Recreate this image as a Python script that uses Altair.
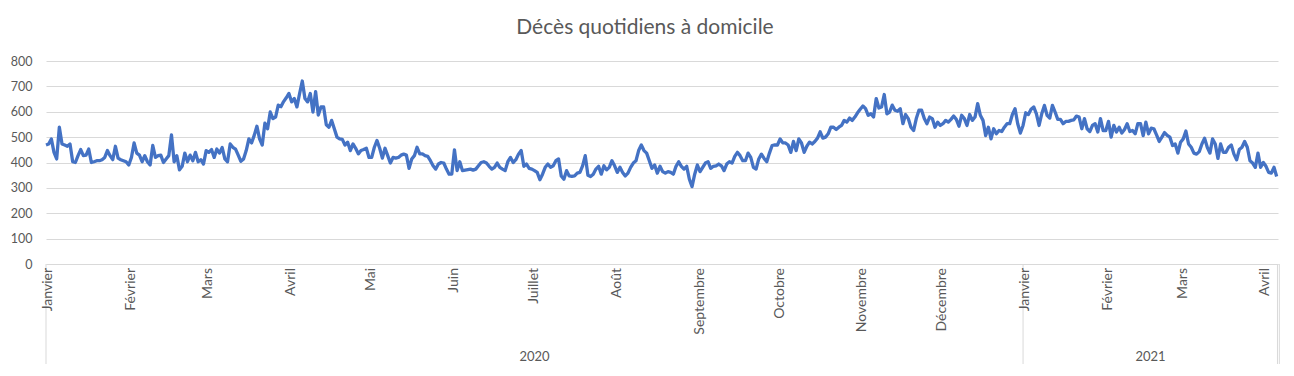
import altair as alt
import pandas as pd

# Daily deaths at home (one value per day)
jan_2020 = [469,473,493,440,414,539,473,469,464,473,403,400,427,451,427,429,453,400,403,407,407,411,420,447,427,411,464,417,411,407,403]
feb_2020 = [390,420,477,437,429,403,427,403,390,467,420,427,429,400,414,427,509,403,427,371,385,437,403,429,407,440,403,411,394]
mar_2020 = [447,440,451,420,453,437,459,414,403,473,460,453,429,405,414,447,493,477,507,543,493,469,555,533,599,573,579,626,620,640,655]
apr_2020 = [672,639,652,619,672,721,652,639,672,599,679,587,619,619,549,539,566,533,500,493,491,469,480,447,473,456,434,447,451,456]
may_2020 = [420,420,460,487,456,417,456,427,398,420,417,420,429,433,429,377,414,427,460,434,434,427,424,407,387,374,394,400,398,374,354]
jun_2020 = [354,450,368,403,368,370,372,374,370,374,387,400,403,398,385,374,381,398,381,374,368,403,420,400,411,433,447,385,394,377]
jul_2020 = [374,368,361,332,354,381,394,381,387,407,414,347,334,368,347,345,347,358,361,387,427,350,345,354,374,385,354,387,371,381,407]
aug_2020 = [387,361,381,361,347,358,381,398,407,447,469,447,437,407,377,390,358,385,364,358,364,361,354,385,403,385,374,385,334,305,354]
sep_2020 = [390,364,381,398,403,377,385,387,394,387,368,394,403,398,424,440,427,407,407,437,420,381,374,414,433,416,403,437,467,469]
oct_2020 = [469,493,477,477,469,440,483,447,493,477,440,464,480,473,483,496,521,496,500,513,539,539,530,539,546,566,559,575,566,579,596]
nov_2020 = [610,623,612,586,592,579,652,615,619,668,592,599,626,606,602,612,553,589,573,539,526,573,606,606,573,553,579,573,539,559]
dec_2020 = [546,553,566,559,570,583,570,543,586,573,546,589,566,579,632,586,566,506,539,493,533,513,526,522,539,553,553,589,612,553,516]
jan_2021 = [546,596,589,610,619,592,546,592,625,586,575,625,599,570,570,553,562,562,566,568,583,579,533,573,533,522,546,553,520,573,526]
feb_2021 = [526,562,500,546,520,539,516,530,553,522,526,513,553,553,506,559,513,535,533,509,483,500,518,507,500,467,473,437]
mar_2021 = [480,493,524,473,460,437,433,443,473,496,460,437,493,473,416,473,440,440,460,469,433,411,451,460,483,460,407,398,381,437,381]
apr_2021 = [400,385,361,358,381,345]

months = [jan_2020, feb_2020, mar_2020, apr_2020, may_2020, jun_2020, jul_2020,
          aug_2020, sep_2020, oct_2020, nov_2020, dec_2020,
          jan_2021, feb_2021, mar_2021, apr_2021]
month_names = ["Janvier", "Février", "Mars", "Avril", "Mai", "Juin", "Juillet", "Août",
               "Septembre", "Octobre", "Novembre", "Décembre",
               "Janvier", "Février", "Mars", "Avril"]
years = ["2020", "2021"]
y_ticks = [0, 100, 200, 300, 400, 500, 600, 700, 800]
title_text = "Décès quotidiens à domicile"

values = [v for m in months for v in m]
df = pd.DataFrame({"day": list(range(len(values))), "deces": values})

starts = []
acc = 0
for m in months:
    starts.append(acc)
    acc += len(m)
n_days = len(values)
x_max = n_days - 0.5

labels_df = pd.DataFrame({"day": [s + 0.8 for s in starts], "label": month_names})
year_df = pd.DataFrame({"day": [183, (366 + x_max) / 2], "label": years})
sep_df = pd.DataFrame({"day": [0, 366, x_max - 0.2, x_max + 0.5]})

xscale = alt.Scale(domain=[0, x_max], nice=False, zero=False)
GRAY = "#595959"
FONT = "Lato"

line = alt.Chart(df).mark_line(color="#4472C4", strokeWidth=3.3, strokeJoin="round").encode(
    x=alt.X("day:Q", scale=xscale,
            axis=alt.Axis(title=None, labels=False, ticks=False, grid=False,
                          domain=True, domainColor="#d9d9d9")),
    y=alt.Y("deces:Q", scale=alt.Scale(domain=[0, 800], nice=False),
            axis=alt.Axis(title=None, values=y_ticks, ticks=False, domain=False,
                          gridColor="#d9d9d9", labelColor=GRAY, labelFont=FONT,
                          labelFontSize=12.5, labelPadding=14)),
)

month_text = alt.Chart(labels_df).mark_text(
    angle=270, align="right", baseline="middle", fontSize=14, font=FONT, color=GRAY
).encode(x=alt.X("day:Q", scale=xscale), y=alt.value(207), text="label:N")

year_text = alt.Chart(year_df).mark_text(
    align="center", baseline="middle", fontSize=13, font=FONT, color=GRAY
).encode(x=alt.X("day:Q", scale=xscale), y=alt.value(296), text="label:N")

seps = alt.Chart(sep_df).mark_rule(color="#d9d9d9", strokeWidth=1).encode(
    x=alt.X("day:Q", scale=xscale), y=alt.value(203), y2=alt.value(310)
)

title = alt.Chart(pd.DataFrame({"t": [title_text]})).mark_text(
    align="center", baseline="middle", fontSize=21, font=FONT, color=GRAY
).encode(x=alt.value(599), y=alt.value(-33), text="t:N")

chart = alt.layer(line, seps, month_text, year_text, title).properties(
    width=1232, height=203, autosize="none",
    padding={"left": 38, "top": 53, "right": 8, "bottom": 100},
).configure_view(stroke=None)

chart.save("out.html", embed_options={"renderer": "svg", "actions": False})
